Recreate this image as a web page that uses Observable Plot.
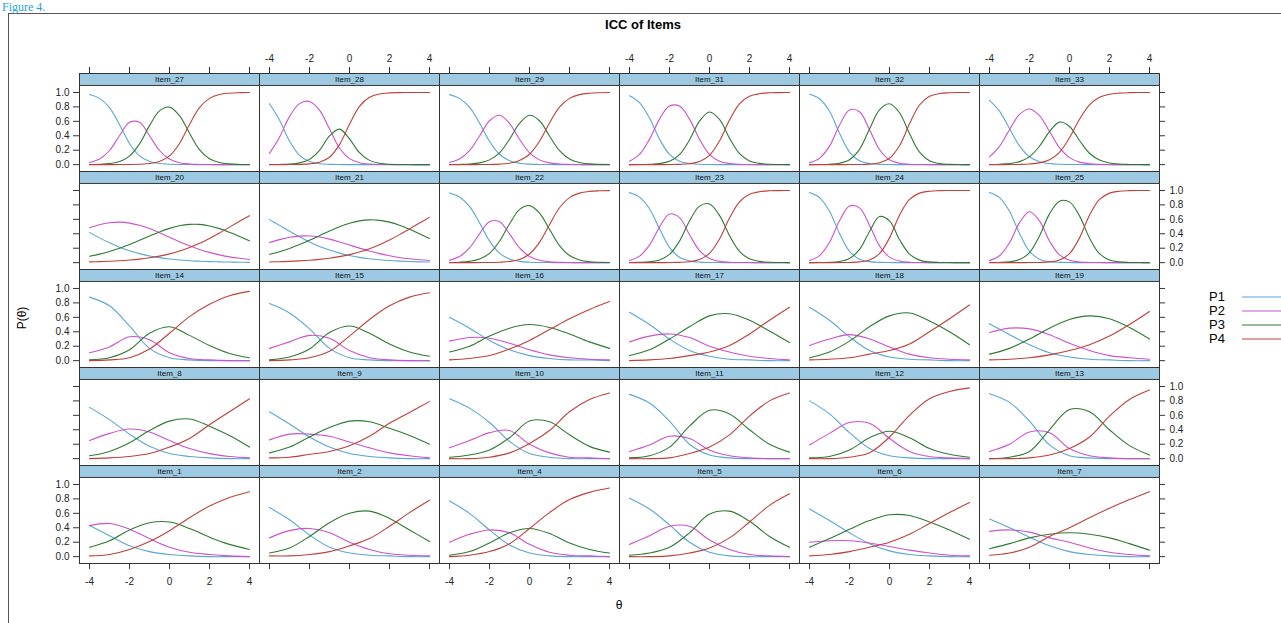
<!DOCTYPE html>
<html><head><meta charset="utf-8">
<script src="https://cdn.jsdelivr.net/npm/d3@7"></script>
<script src="https://cdn.jsdelivr.net/npm/@observablehq/plot@0.6"></script>
<style>
body{margin:0;background:#fff;font-family:"Liberation Sans",Arial,sans-serif;}
#wrap{position:relative;width:1281px;height:623px;overflow:hidden;background:#fff;}
#fig{position:absolute;left:2px;top:1px;font-family:"Liberation Serif","DejaVu Serif",serif;font-size:12px;line-height:12px;color:#1fa2dd;white-space:nowrap;}
#box{position:absolute;left:8px;top:13px;width:1300px;height:660px;border:1px solid #555;box-sizing:border-box;}
#title{position:absolute;left:643px;top:17px;transform:translateX(-50%);font-weight:bold;font-size:13px;white-space:nowrap;}
#xlab{position:absolute;left:619px;top:598px;transform:translateX(-50%);font-size:12px;}
#ylab{position:absolute;left:22px;top:318px;transform:translate(-50%,-50%) rotate(-90deg);font-size:12px;white-space:nowrap;}
#chart{position:absolute;left:0;top:0;}
#legend{position:absolute;left:1209px;top:290px;font-size:13px;line-height:14px;}
.li{display:flex;align-items:center;height:14px;}
.li span{width:33px;display:inline-block;}
.li svg{display:block;}
</style></head>
<body><div id="wrap">
<div id="box"></div>
<div id="fig">Figure 4.</div>
<div id="title">ICC of Items</div>
<div id="chart"></div>
<div id="xlab">θ</div>
<div id="ylab">P(θ)</div>
<div id="legend"></div>
</div>
<script>
// ---------- data ----------
const items = ["Item_27","Item_28","Item_29","Item_31","Item_32","Item_33",
  "Item_20","Item_21","Item_22","Item_23","Item_24","Item_25",
  "Item_14","Item_15","Item_16","Item_17","Item_18","Item_19",
  "Item_8","Item_9","Item_10","Item_11","Item_12","Item_13",
  "Item_1","Item_2","Item_4","Item_5","Item_6","Item_7"];
const categories = ["P1","P2","P3","P4"];
const colors = ["#5aa6d4","#cc52cc","#2f7a33","#c0403a"];
const thetaFine = [-4,-3.5,-3,-2.5,-2,-1.5,-1,-0.5,0,0.5,1,1.5,2,2.5,3,3.5,4];
const thetaCoarse = [-4,-3,-2,-1,0,1,2,3,4];
const xTicks = [-4,-2,0,2,4];
const yTicks = [0,0.2,0.4,0.6,0.8,1.0];

const P1 = [
 [.971,.918,.789,.555,.293,.121,.044,.015,.005,.002,.001,0,0,0,0,0,0],
 [.843,.618,.327,.128,.042,.013,.004,.001,0,0,0,0,0,0,0,0,0],
 [.970,.918,.797,.578,.324,.144,.055,.020,.007,.003,.001,0,0,0,0,0,0],
 [.953,.858,.646,.354,.142,.047,.015,.005,.001,0,0,0,0,0,0,0,0],
 [.974,.912,.739,.435,.174,.054,.015,.004,.001,0,0,0,0,0,0,0,0],
 [.891,.741,.5,.259,.109,.041,.015,.005,.002,.001,0,0,0,0,0,0,0],
 [.419,.343,.274,.214,.165,.125,.093,.069,.051,.037,.027,.020,.014,.011,.008,.006,.004],
 [.596,.516,.435,.358,.287,.225,.174,.132,.099,.073,.054,.040,.029,.021,.015,.011,.008],
 [.966,.910,.779,.552,.302,.131,.050,.018,.006,.002,.001,0,0,0,0,0,0],
 [.970,.907,.746,.470,.211,.074,.024,.007,.002,.001,0,0,0,0,0,0,0],
 [.971,.901,.713,.404,.156,.048,.014,.004,.001,0,0,0,0,0,0,0,0],
 [.971,.901,.713,.404,.156,.048,.014,.004,.001,0,0,0,0,0,0,0,0],
 [.88,.76,.48,.17,.04,.01,0,0,0],
 [.79,.66,.44,.17,.04,.01,0,0,0],
 [.60,.45,.28,.15,.07,.03,.01,.01,0],
 [.67,.50,.30,.14,.06,.02,.01,0,0],
 [.74,.56,.33,.14,.05,.02,.01,0,0],
 [.51,.36,.22,.11,.05,.02,.01,0,0],
 [.71,.54,.34,.17,.07,.03,.01,0,0],
 [.65,.48,.30,.16,.07,.03,.01,0,0],
 [.83,.70,.50,.24,.07,.02,0,0,0],
 [.89,.77,.52,.20,.05,.01,0,0,0],
 [.80,.62,.36,.14,.04,.01,0,0,0],
 [.90,.78,.52,.19,.04,.01,0,0,0],
 [.43,.29,.15,.07,.03,.01,0,0,0],
 [.68,.51,.30,.13,.05,.02,.01,0,0],
 [.77,.60,.37,.16,.05,.01,0,0,0],
 [.81,.66,.44,.20,.06,.01,0,0,0],
 [.66,.50,.33,.18,.08,.03,.01,0,0],
 [.52,.40,.27,.15,.07,.03,.01,0,0]
];
const P2 = [
 [.027,.077,.196,.401,.586,.586,.401,.196,.077,.027,.009,.003,.001,0,0,0,0],
 [.156,.380,.665,.845,.875,.756,.496,.230,.083,.027,.008,.002,.001,0,0,0,0],
 [.029,.079,.194,.397,.608,.685,.573,.352,.164,.066,.024,.009,.003,.001,0,0,0],
 [.047,.141,.350,.631,.811,.811,.631,.350,.141,.047,.015,.005,.001,0,0,0,0],
 [.026,.087,.256,.545,.757,.732,.485,.210,.068,.020,.006,.002,0,0,0,0,0],
 [.107,.253,.484,.696,.771,.679,.459,.235,.097,.035,.012,.004,.001,0,0,0,0],
 [.482,.525,.552,.561,.548,.517,.472,.415,.353,.291,.234,.183,.142,.108,.080,.060,.044],
 [.279,.319,.351,.368,.370,.356,.326,.287,.244,.201,.160,.125,.096,.072,.054,.040,.029],
 [.032,.084,.203,.398,.567,.567,.398,.203,.084,.032,.011,.004,.001,0,0,0,0],
 [.029,.090,.242,.492,.674,.624,.387,.167,.058,.018,.006,.002,.001,0,0,0,0],
 [.029,.098,.282,.579,.783,.759,.518,.233,.077,.023,.006,.002,0,0,0,0,0],
 [.028,.096,.275,.554,.705,.579,.300,.107,.032,.009,.003,.001,0,0,0,0,0],
 [.11,.19,.33,.29,.11,.03,.01,0,0],
 [.17,.26,.35,.31,.14,.04,.01,0,0],
 [.27,.32,.31,.24,.15,.08,.04,.02,.01],
 [.26,.34,.37,.32,.20,.12,.06,.03,.01],
 [.21,.30,.36,.30,.19,.09,.04,.02,.01],
 [.39,.45,.44,.36,.24,.14,.07,.04,.02],
 [.25,.35,.41,.37,.25,.14,.07,.03,.01],
 [.26,.34,.34,.31,.23,.15,.08,.04,.01],
 [.15,.25,.36,.39,.20,.08,.02,.01,0],
 [.10,.19,.31,.28,.12,.04,.01,0,0],
 [.19,.35,.50,.49,.28,.10,.03,.01,0],
 [.10,.20,.37,.36,.14,.04,.01,0,0],
 [.43,.46,.38,.25,.13,.06,.03,.01,0],
 [.26,.36,.39,.33,.20,.10,.04,.02,.01],
 [.20,.31,.37,.33,.17,.06,.02,.01,0],
 [.17,.29,.42,.42,.23,.10,.03,.01,0],
 [.20,.22,.22,.19,.14,.09,.05,.02,.01],
 [.35,.37,.34,.26,.20,.12,.06,.03,.01]
];
const P3 = [
 [.002,.005,.015,.043,.119,.288,.540,.745,.797,.678,.435,.208,.081,.029,.010,.003,.001],
 [.001,.003,.007,.024,.073,.197,.397,.492,.357,.165,.059,.019,.005,.002,.001,0,0],
 [.001,.003,.009,.024,.066,.164,.352,.571,.685,.608,.397,.194,.079,.029,.011,.004,.001],
 [0,.001,.005,.015,.046,.138,.341,.603,.730,.626,.367,.152,.052,.017,.005,.002,0],
 [0,.002,.006,.020,.068,.212,.493,.760,.843,.719,.430,.173,.054,.014,.004,.001,0],
 [.002,.006,.015,.042,.111,.255,.458,.589,.529,.335,.158,.063,.023,.008,.003,.001,0],
 [.089,.118,.155,.199,.251,.309,.368,.426,.475,.512,.530,.530,.508,.471,.420,.363,.302],
 [.116,.152,.197,.250,.310,.374,.439,.498,.546,.579,.593,.586,.561,.519,.463,.400,.336],
 [.002,.006,.018,.049,.129,.296,.536,.734,.790,.686,.462,.236,.098,.037,.013,.005,.002],
 [.001,.004,.012,.038,.114,.298,.576,.783,.812,.654,.376,.155,.053,.017,.005,.002,0],
 [0,.001,.005,.016,.058,.183,.431,.638,.579,.320,.119,.035,.010,.003,.001,0,0],
 [.001,.003,.012,.042,.138,.370,.676,.852,.842,.648,.341,.124,.037,.010,.003,.001,0],
 [.01,.04,.15,.38,.47,.35,.21,.10,.04],
 [.01,.05,.16,.39,.48,.38,.23,.12,.06],
 [.12,.20,.34,.45,.50,.46,.37,.26,.17],
 [.07,.15,.30,.47,.62,.65,.56,.41,.25],
 [.04,.12,.27,.47,.62,.66,.55,.40,.22],
 [.09,.17,.30,.45,.57,.62,.58,.46,.30],
 [.04,.10,.22,.39,.52,.55,.45,.32,.16],
 [.08,.16,.30,.43,.52,.51,.42,.32,.20],
 [.02,.05,.12,.29,.52,.51,.33,.17,.09],
 [.01,.04,.16,.45,.67,.62,.40,.20,.09],
 [.01,.03,.12,.29,.38,.29,.14,.06,.02],
 [0,.02,.10,.40,.68,.65,.40,.18,.05],
 [.13,.22,.37,.47,.48,.39,.27,.17,.10],
 [.05,.12,.28,.47,.60,.63,.53,.37,.21],
 [.02,.07,.19,.33,.39,.32,.19,.10,.05],
 [.02,.05,.13,.33,.59,.63,.49,.28,.13],
 [.13,.25,.38,.50,.58,.57,.48,.37,.24],
 [.11,.18,.26,.31,.33,.31,.26,.18,.09]
];
const P4 = [
 [0,0,0,.001,.002,.005,.015,.044,.121,.293,.555,.789,.918,.971,.990,.997,.999],
 [0,0,.001,.003,.010,.034,.103,.277,.560,.808,.933,.979,.994,.998,.999,1,1],
 [0,0,0,.001,.003,.007,.020,.057,.144,.324,.578,.797,.918,.970,.989,.996,.999],
 [0,0,0,0,.001,.004,.013,.043,.128,.327,.618,.843,.947,.983,.995,.998,1],
 [0,0,0,0,.001,.002,.007,.026,.088,.261,.565,.826,.946,.985,.996,.999,1],
 [0,0,.001,.003,.009,.025,.068,.171,.372,.628,.829,.932,.975,.991,.997,.999,1],
 [.010,.014,.019,.026,.036,.049,.067,.090,.121,.160,.209,.267,.336,.411,.492,.572,.650],
 [.009,.013,.017,.024,.033,.045,.061,.083,.111,.147,.193,.249,.314,.388,.468,.549,.627],
 [0,0,0,.001,.002,.006,.016,.045,.120,.280,.526,.760,.901,.963,.987,.995,.998],
 [0,0,0,0,.001,.004,.013,.043,.128,.327,.618,.843,.947,.983,.995,.998,1],
 [0,0,0,.001,.003,.010,.037,.125,.343,.657,.875,.963,.990,.997,.999,1,1],
 [0,0,0,0,.001,.003,.010,.037,.125,.343,.657,.875,.963,.990,.997,.999,1],
 [0,.01,.04,.16,.38,.61,.78,.90,.96],
 [0,.01,.04,.13,.34,.57,.76,.88,.94],
 [.01,.03,.07,.16,.28,.43,.58,.71,.82],
 [0,.01,.03,.07,.12,.21,.37,.56,.74],
 [.01,.02,.04,.09,.14,.23,.40,.58,.77],
 [.01,.02,.04,.08,.14,.22,.34,.50,.68],
 [0,.01,.03,.07,.16,.28,.47,.65,.83],
 [.01,.02,.06,.10,.18,.31,.49,.64,.79],
 [0,0,.02,.08,.21,.39,.65,.82,.91],
 [0,0,.01,.07,.16,.33,.59,.80,.91],
 [0,0,.02,.08,.30,.60,.83,.93,.98],
 [0,0,.01,.05,.14,.30,.59,.82,.95],
 [.01,.03,.10,.21,.36,.54,.70,.82,.90],
 [.01,.01,.03,.07,.15,.25,.42,.61,.78],
 [0,.02,.07,.18,.39,.61,.79,.89,.95],
 [0,0,.01,.05,.12,.26,.48,.71,.87],
 [.01,.03,.07,.13,.20,.31,.46,.61,.75],
 [.02,.05,.13,.28,.40,.54,.67,.79,.90]
];

// ---------- layout ----------
const W = 1281, H = 623, mL = 78, mR = 121, mT = 72, mB = 59;
const nCols = 6, nRows = 5;
const xLo = -4.5, xHi = 4.5, yLo = -0.095, yTop = 1.097;
const rowH = (H - mT - mB) / nRows;
const stripPx = 12, tickPx = 6;
const pxPerY = (rowH - stripPx) / (yTop - yLo);
const yStrip = yTop + stripPx / pxPerY;
const pxPerX = (W - mL - mR) / nCols / (xHi - xLo);

// ---------- tables ----------
const series = [P1, P2, P3, P4];
const curves = [];
const cells = items.map((name, i) => ({name, row: Math.floor(i / nCols), col: i % nCols}));
cells.forEach((c, i) => {
  series.forEach((S, k) => {
    const vals = S[i];
    const th = vals.length === thetaFine.length ? thetaFine : thetaCoarse;
    vals.forEach((p, j) => curves.push({name: c.name, row: c.row, col: c.col, cat: categories[k], theta: th[j], p}));
  });
});
const bottomTicks = [], topTicks = [], leftTicks = [], rightTicks = [];
for (let c = 0; c < nCols; c++) for (const v of xTicks) {
  bottomTicks.push({col: c, row: nRows - 1, v});
  topTicks.push({col: c, row: 0, v});
}
for (let r = 0; r < nRows; r++) for (const v of yTicks) {
  leftTicks.push({col: 0, row: r, v});
  rightTicks.push({col: nCols - 1, row: r, v});
}
const fmt = d3.format(".1f");
const tk = {stroke: "#333", strokeWidth: 1};

const chart = Plot.plot({
  width: W, height: H,
  marginLeft: mL, marginRight: mR, marginTop: mT, marginBottom: mB,
  style: {fontFamily: "'Liberation Sans', Arial, sans-serif", fontSize: "10px", background: "transparent", overflow: "visible"},
  x: {domain: [xLo, xHi], axis: null},
  y: {domain: [yLo, yStrip], axis: null},
  fx: {domain: d3.range(nCols), padding: 0, axis: null},
  fy: {domain: d3.range(nRows), padding: 0, axis: null},
  color: {domain: categories, range: colors},
  marks: [
    Plot.rect(cells, {fx: "col", fy: "row", x1: xLo, x2: xHi, y1: yTop, y2: yStrip, fill: "#9dc9e2"}),
    Plot.text(cells, {fx: "col", fy: "row", x: 0, y: (yTop + yStrip) / 2, text: "name", fontSize: 8, fill: "#111"}),
    Plot.ruleY(cells, {fx: "col", fy: "row", y: yTop, stroke: "#333"}),
    Plot.line(curves, {fx: "col", fy: "row", x: "theta", y: "p", z: d => d.name + d.cat, stroke: "cat", strokeWidth: 1.1, curve: "catmull-rom"}),
    Plot.frame({stroke: "#333", strokeWidth: 1}),
    // bottom axis
    Plot.ruleX(bottomTicks, {fx: "col", fy: "row", x: "v", y1: yLo, y2: yLo - tickPx / pxPerY, ...tk}),
    Plot.text(bottomTicks.filter(d => d.col % 2 === 0), {fx: "col", fy: "row", x: "v", y: yLo, dy: 18, text: d => String(d.v), fill: "#222"}),
    // top axis
    Plot.ruleX(topTicks, {fx: "col", fy: "row", x: "v", y1: yStrip, y2: yStrip + tickPx / pxPerY, ...tk}),
    Plot.text(topTicks.filter(d => d.col % 2 === 1), {fx: "col", fy: "row", x: "v", y: yStrip, dy: -15, text: d => String(d.v), fill: "#222"}),
    // left axis
    Plot.ruleY(leftTicks, {fx: "col", fy: "row", y: "v", x1: xLo, x2: xLo - tickPx / pxPerX, ...tk}),
    Plot.text(leftTicks.filter(d => d.row % 2 === 0), {fx: "col", fy: "row", y: "v", x: xLo, dx: -10, textAnchor: "end", text: d => fmt(d.v), fill: "#222"}),
    // right axis
    Plot.ruleY(rightTicks, {fx: "col", fy: "row", y: "v", x1: xHi, x2: xHi + tickPx / pxPerX, ...tk}),
    Plot.text(rightTicks.filter(d => d.row % 2 === 1), {fx: "col", fy: "row", y: "v", x: xHi, dx: 10, textAnchor: "start", text: d => fmt(d.v), fill: "#222"})
  ]
});
document.getElementById("chart").appendChild(chart);

// legend
const lg = document.getElementById("legend");
categories.forEach((c, i) => {
  const row = document.createElement("div");
  row.className = "li";
  row.innerHTML = `<span>${c}</span><svg width="45" height="4"><line x1="0" x2="45" y1="2" y2="2" stroke="${colors[i]}" stroke-width="1.2"/></svg>`;
  lg.appendChild(row);
});
</script>
</body></html>
